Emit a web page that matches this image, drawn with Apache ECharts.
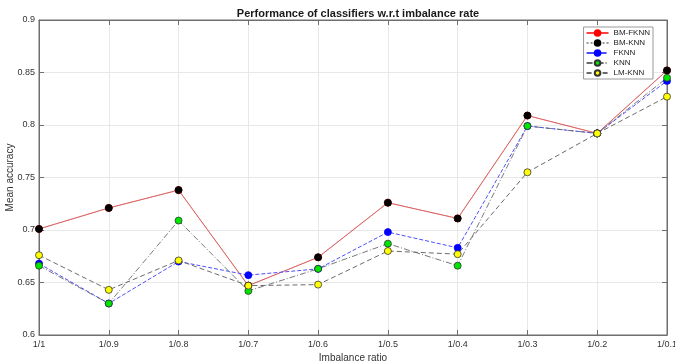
<!DOCTYPE html>
<html>
<head>
<meta charset="utf-8">
<script src="https://cdn.jsdelivr.net/npm/echarts@6/dist/echarts.min.js"></script>
<style>html,body{margin:0;padding:0;background:#fff}#c{width:675px;height:363px}</style>
</head>
<body>
<div id="c"></div>
<script>
var categories = ['1/1','1/0.9','1/0.8','1/0.7','1/0.6','1/0.5','1/0.4','1/0.3','1/0.2','1/0.1'];
var bmFknn = [0.701,0.721,0.738,0.647,0.674,0.726,0.711,0.809,0.792,0.852];
var bmKnn  = [0.701,0.721,0.738,0.647,0.674,0.726,0.711,0.809,0.792,0.852];
var fknn   = [0.668,0.630,0.670,0.657,0.663,0.698,0.683,0.799,0.792,0.842];
var knn    = [0.666,0.630,0.709,0.642,0.663,0.687,0.666,0.799,0.792,0.845];
var lmKnn  = [0.676,0.643,0.671,0.647,0.648,0.680,0.677,0.755,0.792,0.827];
var yTicks = [0.6,0.65,0.7,0.75,0.8,0.85,0.9];

var chart = echarts.init(document.getElementById('c'), null, {renderer:'canvas'});
var axisCol = '#6e6e6e';
var FF = 'Liberation Sans, Arial, sans-serif';
function mk(name, data, lineColor, lineType, lineWidth, fill, edge) {
  return {
    name: name, type: 'line', data: data, symbol: 'circle', symbolSize: 7,
    lineStyle: {color: lineColor, type: lineType, width: lineWidth},
    itemStyle: {color: fill, borderColor: edge, borderWidth: 0.8},
    emphasis: {disabled: true}, animation: false
  };
}
chart.setOption({
  animation: false,
  title: {
    text: 'Performance of classifiers w.r.t imbalance rate',
    left: 353, top: 3, textAlign: 'center',
    textStyle: {fontFamily: FF, fontSize: 11, fontWeight: 'bold', color: '#1a1a1a'}
  },
  legend: {
    orient: 'vertical', right: 22, top: 27,
    itemWidth: 22, itemHeight: 7, itemGap: 2,
    padding: [2, 3, 2, 2],
    backgroundColor: '#fff', borderColor: '#999', borderWidth: 1, borderRadius: 0,
    textStyle: {fontFamily: FF, fontSize: 8, lineHeight: 8, color: '#222'},
    data: ['BM-FKNN','BM-KNN','FKNN','KNN','LM-KNN']
  },
  grid: {left: 39, right: 8, top: 20, bottom: 28, outerBoundsMode: 'none', containLabel: false,
    show: true, borderColor: axisCol, borderWidth: 1},
  xAxis: [{
    type: 'category', data: categories, boundaryGap: false,
    name: 'Imbalance ratio', nameLocation: 'middle', nameGap: 18, nameMoveOverlap: false,
    nameTextStyle: {fontFamily: FF, fontSize: 10, color: '#333'},
    axisLine: {lineStyle: {color: axisCol}},
    axisTick: {inside: true, length: 5, alignWithLabel: true, lineStyle: {color: axisCol}},
    axisLabel: {fontFamily: FF, fontSize: 9, color: '#333', margin: 5, interval: 0},
    splitLine: {show: true, lineStyle: {color: '#e8e8e8'}}
  }, {
    type: 'category', data: categories, boundaryGap: false, position: 'top',
    axisLine: {lineStyle: {color: axisCol}},
    axisTick: {inside: true, length: 5, lineStyle: {color: axisCol}},
    axisLabel: {show: false}, splitLine: {show: false}
  }],
  yAxis: [{
    type: 'value', min: 0.6, max: 0.9, interval: 0.05,
    name: 'Mean accuracy', nameLocation: 'middle', nameGap: 24, nameMoveOverlap: false,
    nameTextStyle: {fontFamily: FF, fontSize: 10, color: '#333'},
    axisLine: {show: true, lineStyle: {color: axisCol}},
    axisTick: {show: true, inside: true, length: 5, lineStyle: {color: axisCol}},
    axisLabel: {fontFamily: FF, fontSize: 9, color: '#333', margin: 4,
      formatter: function (v) { return String(Math.round(v * 100) / 100); }},
    splitLine: {show: true, lineStyle: {color: '#e8e8e8'}}
  }, {
    type: 'value', min: 0.6, max: 0.9, interval: 0.05, position: 'right',
    axisLine: {show: true, lineStyle: {color: axisCol}},
    axisTick: {show: true, inside: true, length: 5, lineStyle: {color: axisCol}},
    axisLabel: {show: false}, splitLine: {show: false}
  }],
  series: [
    mk('BM-FKNN', bmFknn, '#ff4040', 'solid', 1, '#ff0000', '#ff0000'),
    mk('BM-KNN', bmKnn, '#9a9a9a', 'dotted', 0.8, '#000000', '#000000'),
    mk('FKNN', fknn, '#4d4dff', 'dashed', 1, '#0000ff', '#0000ff'),
    mk('KNN', knn, '#6a6a6a', [6, 2, 1, 2], 0.9, '#00e600', '#333333'),
    mk('LM-KNN', lmKnn, '#6a6a6a', [5, 3], 1, '#ffff00', '#333333')
  ]
});
</script>
</body>
</html>
